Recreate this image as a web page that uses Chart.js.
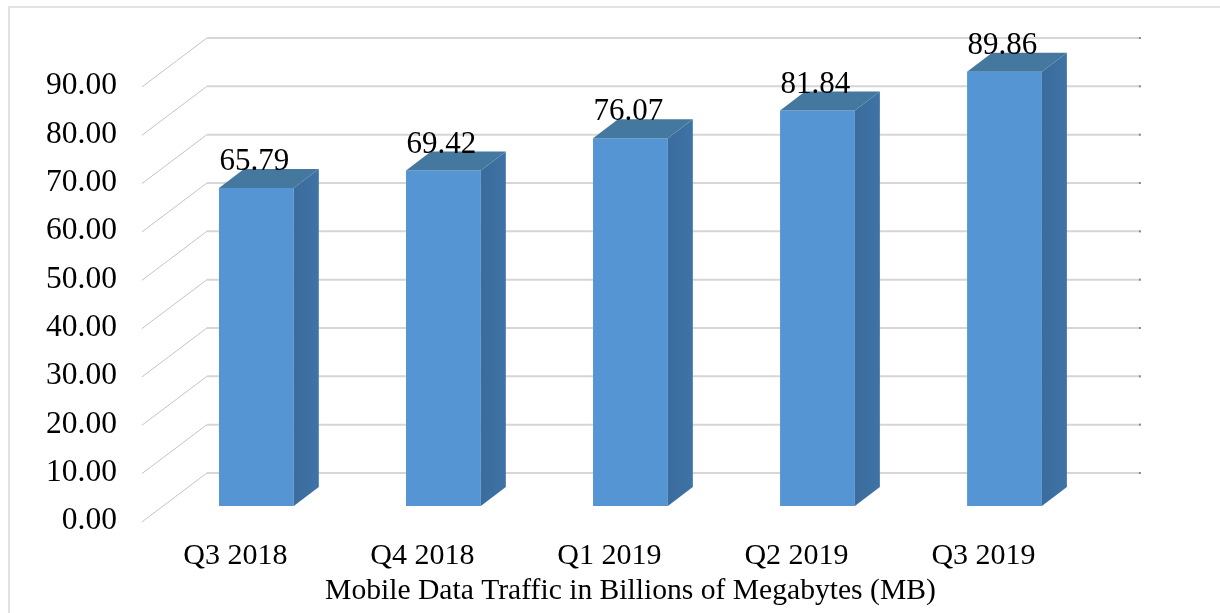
<!DOCTYPE html>
<html>
<head>
<meta charset="utf-8">
<title>Mobile Data Traffic</title>
<script src="https://cdn.jsdelivr.net/npm/chart.js@4"></script>
<style>
    html, body { margin: 0; padding: 0; background: #fff; overflow: hidden; }
    #wrap { position: absolute; left: 0; top: 0; width: 1220px; height: 613px; overflow: hidden; }
    #frame { position: absolute; left: 8px; top: 6px; width: 1300px; height: 700px; border: 2px solid #e2e2e2; box-sizing: border-box; }
    canvas { position: absolute; left: 0; top: 0; }
</style>
</head>
<body>
<div id="wrap">
    <div id="frame"></div>
    <canvas id="trafficChart" width="1220" height="613"></canvas>
</div>
<script>
const categories = ['Q3 2018', 'Q4 2018', 'Q1 2019', 'Q2 2019', 'Q3 2019'];
const trafficValues = [65.79, 69.42, 76.07, 81.84, 89.86];
const yTicks = [0, 10, 20, 30, 40, 50, 60, 70, 80, 90];
const axisTitle = 'Mobile Data Traffic in Billions of Megabytes (MB)';

const FONT = '"Liberation Serif", serif';
const BAR_DX = 25, BAR_DY = -19;

// fake 3D: side faces and walls are worked out from the scale and bar elements
const walls3d = {
    id: 'walls3d',
    beforeDatasetsDraw(chart) {
        const { ctx, scales: { y }, chartArea } = chart;
        const frontX = chartArea.left - 21, backX = frontX + 65, endX = backX + 934;
        ctx.save();
        yTicks.forEach(t => {
            const py = y.getPixelForValue(t);
            ctx.strokeStyle = '#c4c4c4';
            ctx.lineWidth = 1;
            ctx.beginPath();
            ctx.moveTo(frontX, py + 16);
            ctx.lineTo(backX, py - 33);
            ctx.stroke();
            ctx.strokeStyle = '#d6d6d6';
            ctx.lineWidth = 2;
            ctx.beginPath();
            ctx.moveTo(backX, py - 33);
            ctx.lineTo(endX, py - 33);
            ctx.stroke();
            ctx.fillStyle = '#8a8a8a';
            ctx.fillRect(endX - 2, py - 34, 2, 2);
        });
        ctx.restore();
    },
    afterDatasetsDraw(chart) {
        const { ctx } = chart;
        const bars = chart.getDatasetMeta(0).data;
        ctx.save();
        bars.forEach((bar, i) => {
            const l = bar.x - bar.width / 2, r = bar.x + bar.width / 2;
            // side face
            const side = ctx.createLinearGradient(r, 0, r + BAR_DX, 0);
            side.addColorStop(0, '#3a6c9c');
            side.addColorStop(1, '#3f73a6');
            ctx.fillStyle = side;
            ctx.beginPath();
            ctx.moveTo(r, bar.y);
            ctx.lineTo(r + BAR_DX, bar.y + BAR_DY);
            ctx.lineTo(r + BAR_DX, bar.base + BAR_DY);
            ctx.lineTo(r, bar.base);
            ctx.closePath();
            ctx.fill();
            // top face
            ctx.fillStyle = '#44789f';
            ctx.beginPath();
            ctx.moveTo(l, bar.y);
            ctx.lineTo(l + BAR_DX, bar.y + BAR_DY);
            ctx.lineTo(r + BAR_DX, bar.y + BAR_DY);
            ctx.lineTo(r, bar.y);
            ctx.closePath();
            ctx.fill();
            // value label
            ctx.fillStyle = '#000';
            ctx.font = '31px ' + FONT;
            ctx.textAlign = 'center';
            ctx.textBaseline = 'middle';
            ctx.fillText(trafficValues[i].toFixed(2), bar.x - 2, bar.y - 26);
        });
        ctx.restore();
    }
};

function frontGradient(context) {
    const bar = context.element;
    if (!bar || bar.width === undefined) return '#5595d3';
    const l = bar.x - bar.width / 2;
    const g = context.chart.ctx.createLinearGradient(l, 0, l + bar.width, 0);
    g.addColorStop(0, '#5b9fdc');
    g.addColorStop(0.5, '#5797d6');
    g.addColorStop(1, '#5090cf');
    return g;
}

new Chart(document.getElementById('trafficChart'), {
    type: 'bar',
    data: {
        labels: categories,
        datasets: [{
            data: trafficValues,
            backgroundColor: frontGradient,
            borderWidth: 0,
            barPercentage: 0.4,
            categoryPercentage: 1
        }]
    },
    plugins: [walls3d],
    options: {
        responsive: false,
        animation: false,
        layout: { padding: { left: 0, right: 122, top: 71, bottom: 0 } },
        plugins: { legend: { display: false }, tooltip: { enabled: false } },
        scales: {
            x: {
                grid: { display: false, drawTicks: false },
                border: { display: false },
                afterFit(axis) { axis.height = 107; axis.paddingLeft = 0; axis.paddingRight = 0; },
                ticks: { color: '#000', font: { family: FONT, size: 30 }, padding: 32, labelOffset: -21, maxRotation: 0 },
                title: { display: true, text: axisTitle, color: '#000', font: { family: FONT, size: 29.6 }, padding: { top: 0, bottom: 4 } }
            },
            y: {
                min: 0,
                max: 90,
                grid: { display: false, drawTicks: false },
                border: { display: false },
                afterBuildTicks(axis) { axis.ticks = yTicks.map(v => ({ value: v })); },
                afterFit(axis) { axis.paddingTop = 0; axis.paddingBottom = 0; },
                ticks: { color: '#000', font: { family: FONT, size: 31.5 }, padding: 46, labelOffset: 15, callback: v => v.toFixed(2) }
            }
        }
    }
});
</script>
</body>
</html>
